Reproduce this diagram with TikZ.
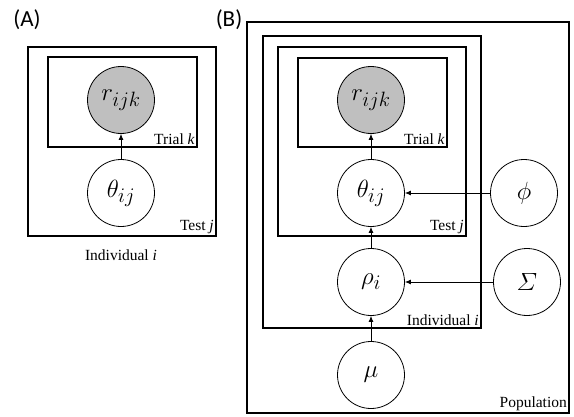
\documentclass[tikz,border=0pt]{standalone}
\usepackage{amsmath}
\usepackage{fontspec}
\setmainfont{Liberation Serif}
\newfontfamily\panelfont{Carlito}
\usetikzlibrary{arrows.meta}
\begin{document}
\begin{tikzpicture}[x=1pt,y=-1pt,
  plate/.style={draw,line width=1.6pt},
  var/.style={draw,circle,line width=0.8pt,minimum size=67pt,inner sep=0pt,font=\fontsize{28}{28}\selectfont},
  obs/.style={var,fill=gray!50},
  platelabel/.style={anchor=south east,inner sep=2pt,font=\fontsize{15.5}{16}\selectfont},
  edge/.style={-{Latex[length=6pt,width=5pt]},line width=0.8pt},
  paneltag/.style={font=\panelfont\fontsize{23}{23}\selectfont}]
\useasboundingbox (0,0) rectangle (574,416);

% ---- (A) ----
\node[paneltag] (tagA) at (27,20) {(A)};
\draw[plate] (28,47) rectangle (216,236);
\draw[plate] (48,57) rectangle (197,147);
\node[obs] (rA) at (121,100) {$r_{ijk}$};
\node[var] (thA) at (121,193) {$\theta_{ij}$};
\node[platelabel] (trialA) at (197,147) {Trial \textit{k}};
\node[platelabel] (testA) at (216,236) {Test \textit{j}};
\node[font=\fontsize{15.5}{16}\selectfont] (indA) at (121,255) {Individual \textit{i}};
\draw[edge] (thA) -- (rA);

% ---- (B) ----
\node[paneltag] (tagB) at (229,20) {(B)};
\draw[plate] (247,22) rectangle (569,413);
\draw[plate] (263,36) rectangle (481,328);
\draw[plate] (278,47) rectangle (466,236);
\draw[plate] (298,58) rectangle (447,147);
\node[obs] (rB) at (371,100) {$r_{ijk}$};
\node[var] (thB) at (371,193) {$\theta_{ij}$};
\node[var] (phi) at (524,193) {$\phi$};
\node[var] (rho) at (371,282) {$\rho_i$};
\node[var] (sig) at (527,282) {$\varSigma$};
\node[var] (mu) at (371,375) {$\mu$};
\node[platelabel] (trialB) at (447,147) {Trial \textit{k}};
\node[platelabel] (testB) at (466,236) {Test \textit{j}};
\node[platelabel] (indB) at (481,328) {Individual \textit{i}};
\node[platelabel] (pop) at (569,413) {Population};
\draw[edge] (thB) -- (rB);
\draw[edge] (phi) -- (thB);
\draw[edge] (rho) -- (thB);
\draw[edge] (sig) -- (rho);
\draw[edge] (mu) -- (rho);
\end{tikzpicture}
\end{document}
